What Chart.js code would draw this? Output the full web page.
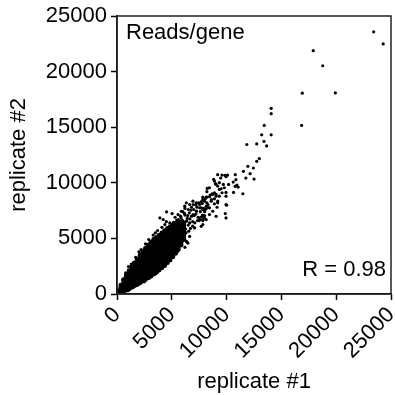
<!DOCTYPE html>
<html>
<head>
<meta charset="utf-8">
<script src="https://cdn.jsdelivr.net/npm/chart.js@4"></script>
<style>
    html, body { margin: 0; padding: 0; background: #fff; }
    #wrap { width: 395px; height: 395px; }
</style>
</head>
<body>
<div id="wrap"><canvas id="chart" width="395" height="395"></canvas></div>
<script>
    // reads per gene, [replicate #1, replicate #2]
    const outliers = [
        [23419, 23573], [24287, 22487], [17903, 21882], [18771, 20525], [16909, 18057],
        [19920, 18084], [14069, 16701], [14069, 16212], [13436, 15163], [16845, 15163],
        [13201, 14314], [14069, 14314], [11845, 13445], [12749, 13500], [13409, 13717],
        [13653, 13319], [12984, 12180]
    ];

    const upperScatter = [
        [12749, 11935], [11935, 11483], [12442, 11330], [11538, 11031], [12143, 10823],
        [10787, 10733], [11755, 10425], [12505, 10335], [10850, 10281], [9856, 10670],
        [10091, 10697], [9585, 10697], [9187, 10733], [9946, 10552], [9458, 10425],
        [8825, 10308], [10606, 10064], [10181, 9856], [10941, 9792], [10787, 9675],
        [11058, 9612], [8979, 9919], [9187, 9702], [9494, 9467], [8228, 9494],
        [9946, 9132], [10633, 9132], [11483, 9015], [8888, 9105], [8680, 9015],
        [9042, 8952], [7830, 8707], [8192, 8707], [8436, 8744], [8617, 8499],
        [8888, 8563], [7984, 8346], [8192, 8201], [7776, 8138], [9187, 8346],
        [10000, 7984], [9132, 7803], [8888, 8111], [7686, 7749], [7830, 7595],
        [8138, 7659], [8283, 7803], [9883, 7234], [8138, 6691], [7830, 6601],
        [7776, 6989], [7984, 7053], [7830, 6239]
    ];

    const midScatter = [
        [8888, 10154], [9340, 10010], [9042, 9856], [9702, 9856], [8436, 9557],
        [9340, 9404], [9792, 9557], [9585, 9105], [8735, 8952], [9042, 8798],
        [9340, 8798], [9946, 8798], [8138, 8707], [7830, 8499], [8590, 8346],
        [9187, 8201], [9946, 8047], [6926, 8346], [7234, 8201], [7532, 8047],
        [6628, 8047], [6176, 7894], [6329, 8201], [8138, 7894], [8436, 7749],
        [7984, 7595], [8735, 7442], [4521, 7387], [5027, 7234], [5570, 7143],
        [5877, 7442], [8436, 7143], [9042, 6989], [7984, 6845], [7532, 6691],
        [9946, 6845], [3915, 6845], [4214, 6691], [4819, 6393], [4367, 6239],
        [6628, 6393], [7080, 5941], [7686, 6085], [7830, 6691], [6329, 4729],
        [6628, 5181], [5271, 4883], [5570, 4431], [5118, 4277], [6420, 4640],
        [6474, 4584], [4819, 3228], [3165, 2170], [3011, 1872]
    ];

    const denseScatter = [
        [5300, 6900], [5600, 6700], [5800, 7000], [6000, 6600], [6200, 7100],
        [6400, 6800], [6600, 7300], [6800, 7000], [7000, 7600], [7200, 7200],
        [6900, 6500], [6500, 6200], [6100, 6000], [5900, 5700], [6300, 5500],
        [6700, 5900], [7100, 6400], [7400, 6900], [7600, 7400], [7300, 7800],
        [6800, 7800], [6500, 7600], [6000, 7400], [5500, 6300], [5200, 5900],
        [5700, 5300], [6000, 5000], [6900, 6100], [7500, 6600], [7800, 7100],
        [8000, 7400], [7200, 8000], [7700, 8300], [6200, 7700], [5000, 5500],
        [5400, 5100], [4700, 4500], [4900, 4000], [5200, 4700], [5600, 4900],
        [6100, 5400], [800, 1900], [1300, 2700], [1700, 3300], [2200, 4000],
        [2600, 4500], [2900, 4900], [3300, 5300], [3700, 5700], [4100, 6000],
        [4500, 6500], [2000, 3800], [3500, 5500], [1000, 300], [1500, 600],
        [2000, 900], [2500, 1100], [3000, 1500], [3500, 1800], [4000, 2300],
        [4500, 2800], [5000, 3300], [5500, 3800], [5900, 4400], [3800, 2100],
        [4300, 2500], [6200, 4200], [3915, 4132], [3011, 3526], [3309, 3074],
        [2405, 3526], [1501, 2776], [1049, 2469],
        [5150, 6450], [5450, 6650], [5750, 6300], [6050, 6250], [6350, 6550],
        [6650, 6750], [6950, 7150], [7250, 7450], [7550, 7750], [5850, 6850],
        [6150, 7250], [6450, 7050], [6750, 7550], [7050, 7050], [7350, 6600],
        [6250, 5850], [6550, 5650], [5350, 5600], [5650, 5850], [4950, 6050],
        [4650, 5850], [4400, 5650], [7650, 6900], [7900, 7700], [8300, 8050],
        [8050, 8550], [7450, 8200], [6950, 8050], [8500, 8900], [8200, 9200]
    ];

    // solid core of the cloud: replicate #1 value, then the replicate #2 values stacked at it
    const coreColumns = [
        [100, [0, 150, 300]],
        [350, [100, 350, 600, 800]],
        [600, [200, 450, 700, 950, 1200, 1300]],
        [850, [350, 600, 850, 1100, 1350, 1600, 1700]],
        [1100, [450, 700, 950, 1200, 1450, 1700, 1950, 2100]],
        [1350, [600, 850, 1100, 1350, 1600, 1850, 2100, 2350, 2450]],
        [1600, [750, 1000, 1250, 1500, 1750, 2000, 2250, 2500, 2750, 2800]],
        [1850, [850, 1100, 1350, 1600, 1850, 2100, 2350, 2600, 2850, 3100, 3150]],
        [2100, [1000, 1250, 1500, 1750, 2000, 2250, 2500, 2750, 3000, 3250, 3500]],
        [2350, [1150, 1400, 1650, 1900, 2150, 2400, 2650, 2900, 3150, 3400, 3650, 3800]],
        [2600, [1300, 1550, 1800, 2050, 2300, 2550, 2800, 3050, 3300, 3550, 3800, 4050, 4100]],
        [2850, [1450, 1700, 1950, 2200, 2450, 2700, 2950, 3200, 3450, 3700, 3950, 4200, 4400]],
        [3100, [1600, 1850, 2100, 2350, 2600, 2850, 3100, 3350, 3600, 3850, 4100, 4350, 4600, 4650]],
        [3350, [1800, 2050, 2300, 2550, 2800, 3050, 3300, 3550, 3800, 4050, 4300, 4550, 4800, 4900]],
        [3600, [1950, 2200, 2450, 2700, 2950, 3200, 3450, 3700, 3950, 4200, 4450, 4700, 4950, 5100]],
        [3850, [2150, 2400, 2650, 2900, 3150, 3400, 3650, 3900, 4150, 4400, 4650, 4900, 5150, 5300]],
        [4100, [2350, 2600, 2850, 3100, 3350, 3600, 3850, 4100, 4350, 4600, 4850, 5100, 5350, 5500]],
        [4350, [2550, 2800, 3050, 3300, 3550, 3800, 4050, 4300, 4550, 4800, 5050, 5300, 5550, 5700]],
        [4600, [2800, 3050, 3300, 3550, 3800, 4050, 4300, 4550, 4800, 5050, 5300, 5550, 5800, 5900]],
        [4850, [3050, 3300, 3550, 3800, 4050, 4300, 4550, 4800, 5050, 5300, 5550, 5800, 6050]],
        [5100, [3350, 3600, 3850, 4100, 4350, 4600, 4850, 5100, 5350, 5600, 5850, 6100, 6200]],
        [5350, [3650, 3900, 4150, 4400, 4650, 4900, 5150, 5400, 5650, 5900, 6150, 6350]],
        [5600, [4000, 4250, 4500, 4750, 5000, 5250, 5500, 5750, 6000, 6250, 6450]],
        [5850, [4400, 4650, 4900, 5150, 5400, 5650, 5900, 6150, 6400, 6500]],
        [6100, [4900, 5150, 5400, 5650, 5900, 6150, 6400]]
    ];

    const axisMin = 0;
    const axisMax = 25000;
    const axisStep = 5000;

    const titleText = 'Reads/gene';
    const corrText = 'R = 0.98';
    const xLabel = 'replicate #1';
    const yLabel = 'replicate #2';

    const FONT = '"Liberation Sans", Arial, Helvetica, sans-serif';
    const FONT_SIZE = 22;

    const toPoints = (list) => list.map(p => ({x: p[0], y: p[1]}));

    const corePoints = [];
    coreColumns.forEach((col) => {
        col[1].forEach((v) => {
            corePoints.push({x: col[0], y: v});
        });
    });

    const scatterPoints = toPoints([].concat(outliers, upperScatter, midScatter, denseScatter));

    // box round the plot + the two captions
    const frame = {
        id: 'frame',
        afterDraw: function (chart) {
            const ctx = chart.ctx;
            const a = chart.chartArea;

            ctx.save();
            ctx.strokeStyle = '#222';
            ctx.lineWidth = 1.5;
            ctx.strokeRect(a.left, a.top, a.right - a.left, a.bottom - a.top);

            ctx.fillStyle = '#000';
            ctx.font = FONT_SIZE + 'px ' + FONT;
            ctx.textBaseline = 'middle';
            ctx.textAlign = 'left';
            ctx.fillText(titleText, a.left + 9, a.top + 17);
            ctx.textAlign = 'right';
            ctx.fillText(corrText, a.right - 5, a.bottom - 24);
            ctx.restore();
        }
    };

    const axis = (label, isX) => ({
        type: 'linear',
        min: axisMin,
        max: axisMax,
        border: {display: true, color: '#000', width: 1.5},
        grid: {
            display: true,
            drawOnChartArea: false,
            drawTicks: true,
            tickLength: 6,
            tickWidth: 1.5,
            tickColor: '#000'
        },
        ticks: {
            stepSize: axisStep,
            color: '#000',
            font: {family: FONT, size: FONT_SIZE},
            padding: isX ? 2 : 4,
            maxRotation: 45,
            minRotation: isX ? 45 : 0,
            autoSkip: false,
            callback: (v) => String(v)
        },
        title: {
            display: true,
            text: label,
            color: '#000',
            font: {family: FONT, size: FONT_SIZE},
            padding: isX ? {top: 3, bottom: 0} : {top: 6, bottom: 0}
        },
        afterFit: function (scale) {
            // fixed plot box, no extra room for overhanging labels
            scale.paddingLeft = 0;
            scale.paddingRight = 0;
            scale.paddingTop = 0;
            scale.paddingBottom = 0;
            if (isX) {
                scale.height = 101;
            } else {
                scale.width = 117;
            }
        }
    });

    new Chart(document.getElementById('chart'), {
        type: 'scatter',
        data: {
            datasets: [{
                label: 'core',
                data: corePoints,
                backgroundColor: '#000',
                borderWidth: 0,
                pointRadius: 2.4
            }, {
                label: 'genes',
                data: scatterPoints,
                backgroundColor: '#000',
                borderWidth: 0,
                pointRadius: 1.6
            }]
        },
        options: {
            responsive: false,
            animation: false,
            devicePixelRatio: 1,
            layout: {
                padding: {top: 16, right: 2, left: 0, bottom: 0}
            },
            plugins: {
                legend: {display: false},
                tooltip: {enabled: false}
            },
            scales: {
                x: axis(xLabel, true),
                y: axis(yLabel, false)
            }
        },
        plugins: [frame]
    });
</script>
</body>
</html>
